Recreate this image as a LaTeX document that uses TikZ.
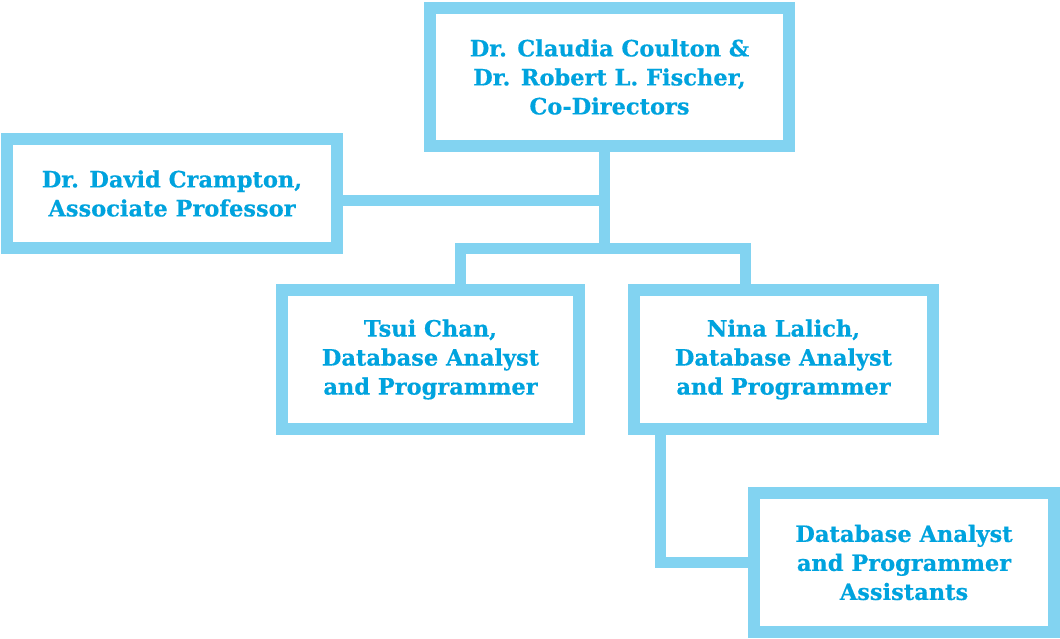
\documentclass[tikz,border=0pt]{standalone}
\usepackage{fontspec}
\setmainfont{DejaVu Serif}
\newfontfamily\boxfont{DejaVu Serif}[BoldFeatures={FakeBold=0.5}]
\definecolor{boxblue}{HTML}{82D3F1}
\definecolor{textblue}{HTML}{00A3DE}
\begin{document}
\begin{tikzpicture}[x=1pt,y=-1pt,
  orgbox/.style={draw=boxblue,line width=11.5pt,fill=white,inner sep=0pt,
    align=center,text=textblue,font=\boxfont\fontsize{22.5}{29}\selectfont\bfseries},
  link/.style={draw=boxblue,line width=11pt,line join=miter}]
\useasboundingbox (0,0) rectangle (1060,638);
\node[orgbox,minimum width=359pt,minimum height=138pt] (top) at (609.5,77)
  {Dr. Claudia Coulton \&\\Dr. Robert L. Fischer,\\Co-Directors};
\node[orgbox,minimum width=330pt,minimum height=109pt] (left) at (172,193.5)
  {Dr. David Crampton,\\Associate Professor};
\node[orgbox,minimum width=297pt,minimum height=139pt] (tsui) at (430.5,359.5)
  {Tsui Chan,\\Database Analyst\\and Programmer};
\node[orgbox,minimum width=299pt,minimum height=139pt] (nina) at (783.5,359.5)
  {Nina Lalich,\\Database Analyst\\and Programmer};
\node[orgbox,minimum width=300pt,minimum height=139pt] (asst) at (904,562.5)
  {Database Analyst\\and Programmer\\Assistants};
\coordinate (j1) at (604,200);
\coordinate (j2) at (604,248);
\coordinate (bl) at (460,248);
\coordinate (br) at (745,248);
\coordinate (nd) at (660,562.5);
\draw[link] (top.south -| j1) -- (j2);
\draw[link] (left.east |- j1) -- (j1);
\draw[link] (tsui.north -| bl) -- (bl) -- (br) -- (nina.north -| br);
\draw[link] (nina.south -| nd) -- (nd) -- (asst.west);
\end{tikzpicture}
\end{document}
